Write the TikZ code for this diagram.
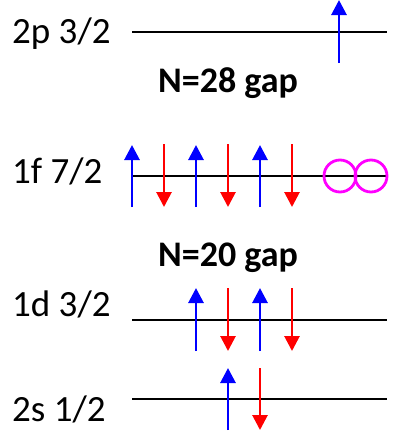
\documentclass[tikz,border=0pt]{standalone}
\usepackage{fontspec}
\setmainfont{Carlito}
\usetikzlibrary{arrows.meta}
\definecolor{upblue}{RGB}{0,0,255}
\definecolor{downred}{RGB}{255,0,0}
\definecolor{holemag}{RGB}{255,0,255}
\tikzset{
  level/.style={draw=black, line width=2pt},
  lbl/.style={anchor=base west, inner sep=0pt, font=\fontsize{37}{37}\selectfont},
  gaplbl/.style={anchor=base west, inner sep=0pt, font=\fontsize{36}{36}\selectfont\bfseries},
  spinup/.style={draw=upblue, line width=2.8pt, -{Triangle[width=15pt,length=15pt]}},
  spindown/.style={draw=downred, line width=2.8pt, -{Triangle[width=15pt,length=15pt]}},
  hole/.style={draw=holemag, line width=2.8pt, circle, minimum size=32pt, inner sep=0pt}
}
\begin{document}
\begin{tikzpicture}[x=1pt,y=-1pt]
\useasboundingbox (0,0) rectangle (395,432);
% labels
\node[lbl] (l2p) at (12,43) {2p 3/2};
\node[lbl] (l1f) at (12,183) {1f 7/2};
\node[lbl] (l1d) at (12,316) {1d 3/2};
\node[lbl] (l2s) at (12,421) {2s 1/2};
\node[gaplbl] (g28) at (158,92) {N=28 gap};
\node[gaplbl] (g20) at (158,266) {N=20 gap};
% levels
\coordinate (a2p) at (132,32); \coordinate (b2p) at (387,32);
\coordinate (a1f) at (132,176); \coordinate (b1f) at (387,176);
\coordinate (a1d) at (132,320); \coordinate (b1d) at (387,320);
\coordinate (a2s) at (132,399); \coordinate (b2s) at (387,399);
\draw[level] (a2p) -- (b2p);
\draw[level] (a1f) -- (b1f);
\draw[level] (a1d) -- (b1d);
\draw[level] (a2s) -- (b2s);
% 2p 3/2
\coordinate (p1s) at (339,63); \coordinate (p1e) at (339,0);
\draw[spinup] (p1s) -- (p1e);
% 1f 7/2
\foreach \x/\n in {132/1,196/2,260/3}{
  \coordinate (fu\n s) at (\x,207); \coordinate (fu\n e) at (\x,145);
  \draw[spinup] (fu\n s) -- (fu\n e);
}
\foreach \x/\n in {164/1,228/2,292/3}{
  \coordinate (fd\n s) at (\x,144); \coordinate (fd\n e) at (\x,207);
  \draw[spindown] (fd\n s) -- (fd\n e);
}
\node[hole] (h1) at (340,176) {};
\node[hole] (h2) at (371,176) {};
% 1d 3/2
\foreach \x/\n in {196/1,260/2}{
  \coordinate (du\n s) at (\x,351); \coordinate (du\n e) at (\x,288);
  \draw[spinup] (du\n s) -- (du\n e);
}
\foreach \x/\n in {228/1,292/2}{
  \coordinate (dd\n s) at (\x,288); \coordinate (dd\n e) at (\x,351);
  \draw[spindown] (dd\n s) -- (dd\n e);
}
% 2s 1/2
\coordinate (su1s) at (228,430); \coordinate (su1e) at (228,368);
\draw[spinup] (su1s) -- (su1e);
\coordinate (sd1s) at (260,368); \coordinate (sd1e) at (260,430);
\draw[spindown] (sd1s) -- (sd1e);
\end{tikzpicture}
\end{document}
